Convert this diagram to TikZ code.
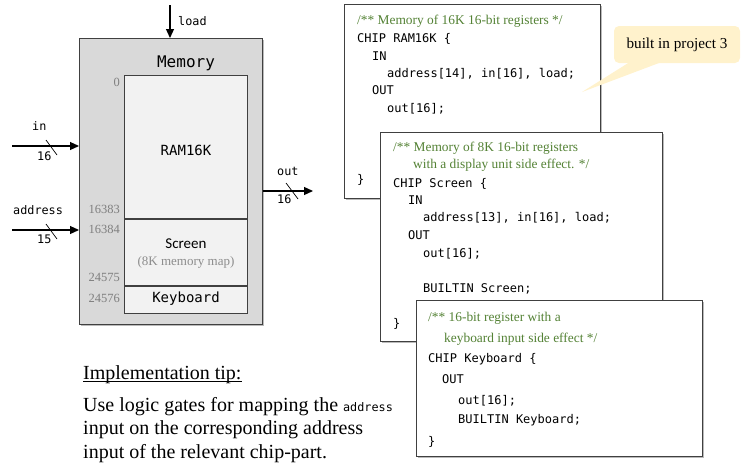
\documentclass[tikz,border=0pt]{standalone}
\usepackage{fontspec}
\setmainfont{Liberation Serif}
\setmonofont{DejaVu Sans Mono}
\newfontfamily\carlito{Carlito}
\usetikzlibrary{arrows.meta,shadows}
\definecolor{memgray}{HTML}{D9D9D9}
\definecolor{innergray}{HTML}{F2F2F2}
\definecolor{numgray}{HTML}{7F7F7F}
\definecolor{mapgray}{HTML}{8C8C8C}
\definecolor{cmtgreen}{HTML}{548235}
\definecolor{calloutfill}{HTML}{FFF2CC}
\definecolor{edge}{HTML}{404040}
\begin{document}
\begin{tikzpicture}[x=1pt,y=-1pt,
  box/.style={draw=edge, line width=0.8pt, fill=white, anchor=north west, inner sep=0pt,
    drop shadow={shadow xshift=2pt, shadow yshift=-2pt, fill=black!45, opacity=0.6}},
  part/.style={draw=edge, line width=0.8pt, fill=innergray, anchor=north west, minimum width=123pt, inner sep=0pt},
  code/.style={anchor=base west, inner sep=0pt, font=\fontsize{12}{14}\ttfamily},
  cmt/.style={anchor=base west, inner sep=0pt, text=cmtgreen, font=\fontsize{13.4}{15}\selectfont},
  num/.style={anchor=base east, inner sep=0pt, text=numgray, font=\fontsize{12.5}{14}\selectfont},
  lbl/.style={anchor=base west, inner sep=0pt, font=\fontsize{11.8}{14}\ttfamily},
  sig/.style={line width=1.2pt, -{Triangle[length=9pt,width=8pt]}},
  slash/.style={line width=0.7pt},
  body/.style={anchor=base west, inner sep=0pt, font=\fontsize{20}{23.5}\selectfont}
]
\useasboundingbox (0,0) rectangle (751,474);

% ---------- Memory chip ----------
\node[box, fill=memgray, minimum width=183pt, minimum height=286pt] (mem) at (79,38) {};
\node[anchor=base, inner sep=0pt, font=\fontsize{16}{18}\ttfamily] (memt) at (186,67) {Memory};
\node[part, minimum height=143pt] (ram) at (124,75) {};
\node[part, minimum height=66pt] (scr) at (ram.south west) {};
\node[part, minimum height=27pt] (kbd) at (scr.south west) {};
\node[anchor=base, inner sep=0pt, font=\fontsize{14}{16}\ttfamily] (ramt) at (186,155) {RAM16K};
\node[anchor=base, inner sep=0pt, font=\fontsize{15}{17}\carlito] (scrt) at (186,248) {Screen};
\node[anchor=base, inner sep=0pt, text=mapgray, font=\fontsize{13}{15}\selectfont] (mapt) at (186,265) {(8K memory map)};
\node[anchor=base, inner sep=0pt, font=\fontsize{14}{16}\ttfamily] (kbdt) at (186,302) {Keyboard};

\node[num] (n0) at (120,86) {0};
\node[num] (n1) at (120,213) {16383};
\node[num] (n2) at (120,233) {16384};
\node[num] (n3) at (120,281) {24575};
\node[num] (n4) at (120,302) {24576};

% ---------- signals ----------
\coordinate (loadS) at (170,5);
\draw[sig] (loadS) -- (loadS |- mem.north);
\node[lbl] (loadl) at (178,25) {load};

\coordinate (inS) at (12,146);
\draw[sig] (inS) -- (inS -| mem.west);
\draw[slash] (46,140) -- (57,155);
\node[lbl] (inl) at (32,130) {in};
\node[lbl] (inw) at (37,160) {16};

\coordinate (adS) at (12,230);
\draw[sig] (adS) -- (adS -| mem.west);
\draw[slash] (46,224) -- (57,239);
\node[lbl] (adl) at (13,214) {address};
\node[lbl] (adw) at (37,243) {15};

\coordinate (outE) at (313,191);
\draw[sig] (outE -| mem.east) -- (outE);
\draw[slash] (286,183) -- (298,199);
\node[lbl] (outl) at (277,175) {out};
\node[lbl] (outw) at (277,203) {16};

% ---------- RAM16K code box ----------
\node[box, minimum width=256pt, minimum height=194pt] (b1) at (344,4) {};
\node[cmt] at (357,24) {/** Memory of 16K 16-bit registers */};
\node[code] at (357,42) {CHIP RAM16K \{};
\node[code] at (372,60) {IN};
\node[code] at (387,77) {address[14], in[16], load;};
\node[code] at (372,94) {OUT};
\node[code] at (387,112) {out[16];};
\node[code] at (357,183) {\}};

% ---------- callout ----------
\coordinate (tail) at (582,92);
\fill[calloutfill] (633,60) -- (tail) -- (667,60) -- cycle;
\node[fill=calloutfill, rounded corners=5pt, minimum width=126pt, minimum height=37pt, inner sep=0pt,
  font=\fontsize{15.2}{17}\selectfont] (call) at (677,44.5) {built in project 3};

% ---------- Screen code box ----------
\node[box, minimum width=282pt, minimum height=209pt] (b2) at (380,132) {};
\node[cmt] at (393,151) {/** Memory of 8K 16-bit registers};
\node[cmt] at (413,168) {with a display unit side effect. */};
\node[code] at (393,187) {CHIP Screen \{};
\node[code] at (408,204) {IN};
\node[code] at (423,221) {address[13], in[16], load;};
\node[code] at (408,239) {OUT};
\node[code] at (423,257) {out[16];};
\node[code] at (423,292) {BUILTIN Screen;};
\node[code] at (393,327) {\}};

% ---------- Keyboard code box ----------
\node[box, minimum width=286pt, minimum height=156pt] (b3) at (416,300) {};
\node[cmt] at (428,321) {/** 16-bit register with a};
\node[cmt] at (444,342) {keyboard input side effect */};
\node[code] at (428,362) {CHIP Keyboard \{};
\node[code] at (442,383) {OUT};
\node[code] at (458,404) {out[16];};
\node[code] at (458,423) {BUILTIN Keyboard;};
\node[code] at (428,445) {\}};

% ---------- implementation tip ----------
\node[body] (tip) at (83,379) {Implementation tip:};
\draw[line width=0.9pt] ([yshift=-2.8pt]tip.base west) -- ([yshift=-2.8pt]tip.base east);
\node[body] (l1) at (83,411) {Use logic gates for mapping the {\fontsize{11.8}{14}\ttfamily address}};
\node[body] (l2) at (83,434) {input on the corresponding address};
\node[body] (l3) at (83,458) {input of the relevant chip-part.};
\end{tikzpicture}
\end{document}
